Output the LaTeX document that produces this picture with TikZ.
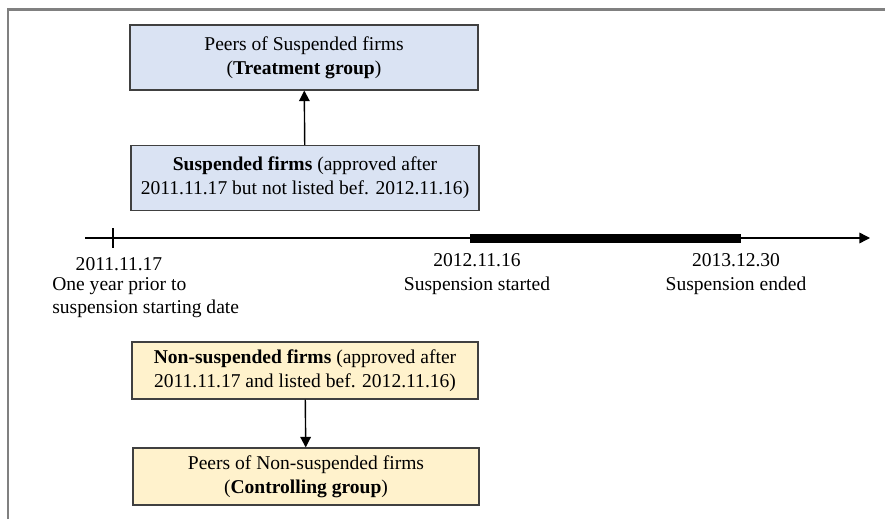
\documentclass[tikz,border=0pt]{standalone}
\usepackage{fontspec}
\setmainfont{Liberation Serif}
\usepackage{xcolor}
\usepackage{tikz}
\usetikzlibrary{arrows.meta}
\definecolor{treatblue}{HTML}{DAE3F3}
\definecolor{ctrlyellow}{HTML}{FFF2CC}
\definecolor{boxline}{HTML}{404040}
\tikzstyle{treatbox} = [rectangle, minimum width=8.7cm, minimum height=1.625cm, text centered, align=center, draw=boxline, line width=0.8pt, fill=treatblue, inner sep=0pt]
\tikzstyle{ctrlbox} = [rectangle, minimum width=8.65cm, minimum height=1.425cm, text centered, align=center, draw=boxline, line width=0.8pt, fill=ctrlyellow, inner sep=0pt]
\tikzstyle{datelabel} = [align=center, inner sep=0pt]
\tikzstyle{arrow} = [line width=1pt,-{Triangle[length=7.5pt,width=7.5pt]}]

\begin{document}
\begin{tikzpicture}[x=0.025cm, y=-0.025cm, font=\fontsize{13.9}{16.8}\selectfont]
\useasboundingbox (0,0) rectangle (885,519);
% frame
\draw [gray, line width=1.5pt] (8,519) -- (8,9.5) -- (885,9.5);

% boxes
\node (treat) [treatbox] at (304,57.5) {Peers of Suspended firms\\(\textbf{Treatment group})};
\node (susp) [treatbox] at (305,178) {\textbf{Suspended firms} (approved after\\2011.11.17 but not listed bef. 2012.11.16)};
\node (nonsusp) [ctrlbox] at (305,370.5) {\textbf{Non-suspended firms} (approved after\\2011.11.17 and listed bef. 2012.11.16)};
\node (ctrl) [ctrlbox] at (306,476.5) {Peers of Non-suspended firms\\(\textbf{Controlling group})};

% time line
\coordinate (tstart) at (85,238);
\coordinate (tend) at (870,238);
\coordinate (t1) at (113,238);
\coordinate (t2) at (470,238);
\coordinate (t3) at (741,238);
\draw [arrow] (tstart) -- (tend);
\draw [line width=1pt] ([yshift=-7pt]t1) -- ([yshift=7pt]t1);
\draw [line width=6.4pt] (t2) -- (t3);

\node (d1) [datelabel] at (119,264) {2011.11.17};
\node (d1txt) [datelabel, align=left, anchor=north west] at (52,277) {One year prior to\\suspension starting date};
\node (d2) [datelabel, below=11pt] at (477,238) {2012.11.16\\Suspension started};
\node (d3) [datelabel, below=11pt] at (736,238) {2013.12.30\\Suspension ended};

% connectors
\draw [arrow] (susp) -- (treat);
\draw [arrow] (nonsusp) -- (ctrl);
\end{tikzpicture}
\end{document}
